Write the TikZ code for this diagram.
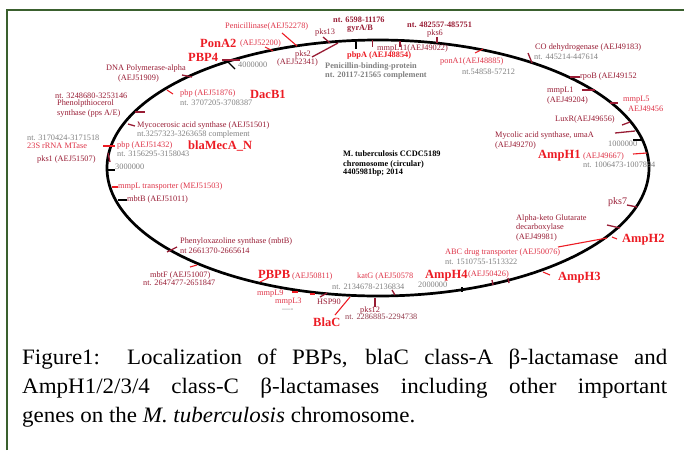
\documentclass[tikz,border=0pt]{standalone}
\usepackage{fontspec}
\setmainfont{Liberation Serif}
\newfontfamily\capfont[FakeStretch=1.045]{Liberation Serif}
\definecolor{redB}{RGB}{236,28,36}
\definecolor{redL}{RGB}{222,52,72}
\definecolor{maroon}{RGB}{152,28,52}
\definecolor{grayT}{RGB}{128,128,128}
\definecolor{frameG}{RGB}{58,96,46}
\tikzset{
  lab/.style={font=\fontsize{8.3}{9}\selectfont, inner sep=0pt, anchor=west},
  labB/.style={font=\fontsize{8.3}{9}\selectfont\bfseries, inner sep=0pt, anchor=west},
  big/.style={font=\fontsize{12.5}{13}\selectfont\bfseries, inner sep=0pt, anchor=west, text=redB},
  tkR/.style={draw=redB, line width=1.1pt},
  tkM/.style={draw=maroon, line width=1.3pt},
  tkK/.style={draw=black, line width=1.2pt},
  capt/.style={font=\capfont\fontsize{22}{29}\selectfont, inner sep=0pt, anchor=base west}
}
\begin{document}
\begin{tikzpicture}[x=1pt,y=-1pt]
\useasboundingbox (0,0) rectangle (684,450);
% frame
\draw[frameG, line width=2.2pt] (7,450) -- (7,10) -- (684,10);
% chromosome
\draw[line width=2.7pt] (378,168) ellipse [x radius=271, y radius=128];

% ---- top left
\node[lab,text=redL] (pen) at (225,27) {Penicillinase(AEJ52278)};
\node[big] (pona2) at (200,43) {PonA2};
\node[lab,text=redL] (pona2id) at (240,44) {(AEJ52200)};
\node[big] (pbp4) at (188,57) {PBP4};
\node[lab,text=grayT] (m4) at (238,65) {4000000};
\node[lab,text=maroon] (pks13) at (315,33) {pks13};
\node[lab,text=maroon] (pks2) at (295,55) {pks2};
\node[lab,text=maroon] (pks2id) at (277,63) {(AEJ52341)};
\node[labB,text=maroon] (gyrnt) at (333,20) {nt. 6598-11176};
\node[labB,text=maroon] (gyr) at (347,29) {gyrA/B};
\node[lab,text=maroon] (mmpl11) at (377,49) {mmpL11(AEJ49022)};
\node[labB,text=redB] (pbpa) at (347,56) {pbpA (AEJ48854)};
\node[labB,text=grayT] (pbpt1) at (325,67) {Penicillin-binding-protein};
\node[labB,text=grayT] (pbpt2) at (325,76) {nt. 20117-21565 complement};
\node[labB,text=maroon] (pks6nt) at (407,25) {nt. 482557-485751};
\node[lab,text=maroon] (pks6) at (427,34) {pks6};
\node[lab,text=redL] (pona1) at (440,62) {ponA1(AEJ48885)};
\node[lab,text=grayT] (pona1nt) at (462,72) {nt.54858-57212};

% ---- top right
\node[lab,text=maroon] (co) at (535,48) {CO dehydrogenase (AEJ49183)};
\node[lab,text=grayT] (cont) at (534,57) {nt. 445214-447614};
\node[lab,text=maroon] (rpob) at (580,77) {rpoB (AEJ49152};
\node[lab,text=maroon] (mmpl1) at (547,91) {mmpL1};
\node[lab,text=maroon] (mmpl1id) at (547,101) {(AEJ49204)};
\node[lab,text=redL] (mmpl5) at (623,100) {mmpL5};
\node[lab,text=redL] (mmpl5id) at (628,109) {AEJ49456};
\node[lab,text=maroon] (luxr) at (555,120) {LuxR(AEJ49656)};
\node[lab,text=maroon] (umaa) at (495,136) {Mycolic acid synthase, umaA};
\node[lab,text=maroon] (umaaid) at (495,145) {(AEJ49270)};
\node[lab,text=grayT] (m1) at (608,144) {1000000};
\node[big] (amph1) at (538,156) {AmpH1};
\node[lab,text=redL] (amph1id) at (583,156) {(AEJ49667)};
\node[lab,text=grayT] (amph1nt) at (583,165) {nt. 1006473-1007894};
\node[lab,text=maroon,font=\fontsize{10}{11}\selectfont] (pks7) at (608,202) {pks7};
\node[lab,text=maroon] (akg1) at (516,218) {Alpha-keto Glutarate};
\node[lab,text=maroon] (akg2) at (516,228) {decarboxylase};
\node[lab,text=maroon] (akg3) at (516,237) {(AEJ49981)};
\node[big] (amph2) at (622,240) {AmpH2};
\node[lab,text=redL] (abc) at (445,253) {ABC drug transporter (AEJ50076)};
\node[lab,text=grayT] (abcnt) at (445,262) {nt. 1510755-1513322};
\node[big] (amph3) at (558,278) {AmpH3};

% ---- bottom
\node[big] (amph4) at (425,276) {AmpH4};
\node[lab,text=redL] (amph4id) at (468,274) {(AEJ50426)};
\node[lab,text=grayT] (m2) at (418,285) {2000000};
\node[lab,text=redL] (katg) at (357,276) {katG (AEJ50578};
\node[lab,text=grayT] (katgnt) at (332,287) {nt. 2134678-2136834};
\node[lab,text=maroon] (pks12) at (360,310) {pks12};
\node[lab,text=maroon!70!gray] (pks12nt) at (345,317) {nt. 2286885-2294738};
\node[big] (blac) at (313,322) {BlaC};
\node[lab,text=maroon] (hsp) at (317,302) {HSP90};
\node[lab,text=redL] (mmpl9) at (257,294) {mmpL9};
\node[lab,text=redL] (mmpl3) at (275,302) {mmpL3};
\node[lab,text=grayT] (dash) at (282,310) {----};
\node[big] (pbpb) at (258,274) {PBPB};
\node[lab,text=redL] (pbpbid) at (292,276) {(AEJ50811)};
\node[lab,text=maroon] (mbtf) at (150,275) {mbtF (AEJ51007)};
\node[lab,text=maroon] (mbtfnt) at (143,283) {nt. 2647477-2651847};
\node[lab,text=maroon] (phen) at (180,242) {Phenyloxazoline synthase (mbtB)};
\node[lab,text=maroon] (phennt) at (180,251) {nt 2661370-2665614};

% ---- left
\node[lab,text=maroon] (mbtb) at (127,199) {mbtB (AEJ51011)};
\node[lab,text=redL] (mmplt) at (118,186) {mmpL transporter (MEJ51503)};
\node[lab,text=grayT] (m3) at (115,167) {3000000};
\node[lab,text=maroon] (pks1) at (37,159) {pks1 (AEJ51507)};
\node[lab,text=redL] (rrna) at (27,146) {23S rRNA MTase};
\node[lab,text=redL] (pbp432) at (117,146) {pbp (AEJ51432)};
\node[lab,text=grayT] (rrnant) at (27,138) {nt. 3170424-3171518};
\node[lab,text=grayT] (pbp432nt) at (117,154) {nt. 3156295-3158043};
\node[big] (mec) at (188,146) {blaMecA\_N};
\node[lab,text=maroon] (myco) at (137,126) {Mycocerosic acid synthase (AEJ51501)};
\node[lab,text=grayT] (mycont) at (137,135) {nt.3257323-3263658 complement};
\node[lab,text=maroon] (pps1) at (55,96) {nt. 3248680-3253146};
\node[lab,text=maroon] (pps2) at (57,104) {Phenolpthiocerol};
\node[lab,text=maroon] (pps3) at (57,114) {synthase (pps A/E)};
\node[lab,text=redL] (pbp876) at (180,94) {pbp (AEJ51876)};
\node[lab,text=grayT] (pbp876nt) at (180,103) {nt. 3707205-3708387};
\node[big] (dacb1) at (250,94) {DacB1};
\node[lab,text=maroon] (dna1) at (106,69) {DNA Polymerase-alpha};
\node[lab,text=maroon] (dna2) at (118,79) {(AEJ51909)};

% title
\node[labB,text=black] (t1) at (343,154) {M. tuberculosis CCDC5189};
\node[labB,text=black] (t2) at (343,164) {chromosome (circular)};
\node[labB,text=black] (t3) at (343,173) {4405981bp; 2014};

% ---- ticks
\draw[tkR] (282,33) -- (297,46);
\draw[tkR] (265,47) -- (273,51);
\draw[tkM] (222,60) -- (240,60);
\draw[tkK] (228,62) -- (235,69);
\draw[tkM] (323,37) -- (330,43);
\draw[tkM] (312,57) -- (338,43);
\draw[tkK] (356,42) -- (356,49);
\draw[maroon, line width=0.6pt] (372,40) -- (372,47);
\draw[tkM] (400,41) -- (400,47);
\draw[tkM] (437,37) -- (437,43);
\draw[tkR] (475,53) -- (483,49);
\draw[tkM] (528,53) -- (532,63);
\draw[tkM] (570,77) -- (580,77);
\draw[tkM] (582,90) -- (595,90);
\draw[tkM] (610,103) -- (618,103);
\draw[tkM] (622,125) -- (630,122);
\draw[tkM] (615,133) -- (635,131);
\draw[tkK] (633,140) -- (643,140);
\draw[tkR] (633,154) -- (647,153);
\draw[tkM] (627,205) -- (637,207);
\draw[tkM] (607,225) -- (620,228);
\draw[tkR] (612,237) -- (617,239);
\draw[tkR] (558,247) -- (607,238);
\draw[tkR] (543,272) -- (550,275);
\draw[tkM] (492,280) -- (493,285);
\draw[tkM] (508,278) -- (509,283);
\draw[tkK] (462,287) -- (462,292);
\draw[tkM] (392,290) -- (395,295);
\draw[tkM] (375,298) -- (375,307);
\draw[tkR] (335,315) -- (350,297);
\draw[tkM] (320,297) -- (327,293);
\draw[tkR] (292,292) -- (298,292);
\draw[tkR] (310,294) -- (315,294);
\draw[tkR] (260,282) -- (268,278);
\draw[tkR] (190,267) -- (197,265);
\draw[tkM] (167,252) -- (177,247);
\draw[tkK] (118,200) -- (127,200);
\draw[tkR] (112,187) -- (118,187);
\draw[tkK] (108,170) -- (115,170);
\draw[tkM] (108,153) -- (110,162);
\draw[tkR] (103,146) -- (115,146);
\draw[tkM] (128,124) -- (135,126);
\draw[tkM] (135,112) -- (145,112);
\draw[tkR] (167,90) -- (173,94);
\draw[tkM] (182,75) -- (192,77);

% caption
\node[capt] (c1) at (22,364) {\makebox[645pt][s]{Figure1: Localization of PBPs, blaC class-A β-lactamase and}};
\node[capt] (c2) at (22,393) {\makebox[645pt][s]{AmpH1/2/3/4 class-C β-lactamases including other important}};
\node[capt] (c3) at (22,422) {genes on the \textit{M. tuberculosis} chromosome.};
\end{tikzpicture}
\end{document}
